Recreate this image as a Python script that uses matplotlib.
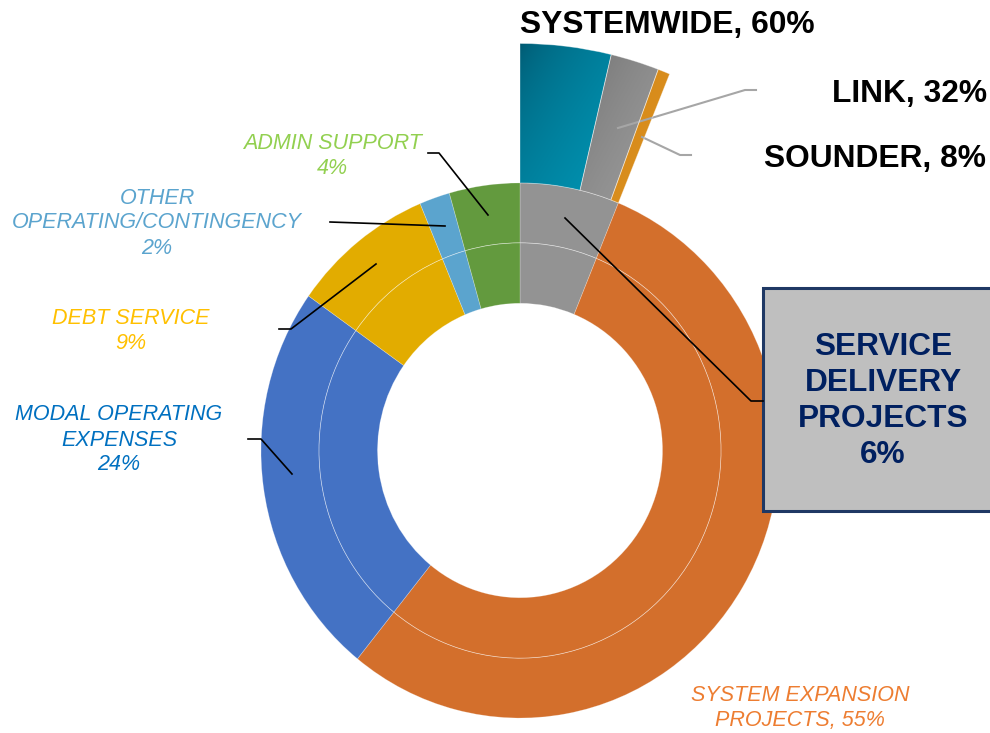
import numpy as np
import matplotlib.pyplot as plt
from matplotlib.colors import to_rgb
from matplotlib.patches import Rectangle, Circle

plt.rcParams['font.family'] = ['Liberation Sans', 'DejaVu Sans']

# Budget shares (percent), clockwise from 12 o'clock
categories = ['SERVICE DELIVERY PROJECTS', 'SYSTEM EXPANSION PROJECTS', 'MODAL OPERATING EXPENSES',
              'DEBT SERVICE', 'OTHER OPERATING/CONTINGENCY', 'ADMIN SUPPORT']
shares = [6.2, 54.6, 24.0, 8.9, 1.9, 4.4]
share_labels = ['6%', '55%', '24%', '9%', '2%', '4%']
ring_colors = ['#939393', '#D36F2C', '#4472C4', '#E2AC00', '#5BA4CE', '#639A3E']

# Breakdown of service delivery projects (percent of that slice)
sub_names = ['SYSTEMWIDE', 'LINK', 'SOUNDER']
sub_shares = [60, 32, 8]

# layout: the picture is drawn in pixel units, slightly stretched vertically
W, H = 990, 733
K = 1.033
def P(x, y):
    return (x, (H - y) / K)

fig = plt.figure(figsize=(W / 100, H / 100), dpi=100)
ax = fig.add_axes([0, 0, 1, 1])

center = P(520, 450.5)
r_out, r_mid, r_in = 259, 201, 142.5

# two rings with the same data
edge = (1, 1, 1, 0.3)
ax.pie(shares, radius=r_out, center=center, startangle=90, counterclock=False,
       colors=ring_colors, wedgeprops=dict(width=r_out - r_mid, edgecolor=edge, linewidth=0.5))
ax.pie(shares, radius=r_mid, center=center, startangle=90, counterclock=False,
       colors=ring_colors, wedgeprops=dict(width=r_mid - r_in, edgecolor=edge, linewidth=0.5))
ax.add_patch(Circle(center, r_mid, fill=False, edgecolor=(1, 1, 1, 0.3), linewidth=0.5))

# exploded breakdown of the service delivery slice
g = shares[0]
sub_vals = [g * s / 100 for s in sub_shares] + [100 - g]
r_sub = 394
wedges, _ = ax.pie(sub_vals, radius=r_sub, center=center, startangle=90, counterclock=False,
                   wedgeprops=dict(width=r_sub - r_out, linewidth=0))
gradients = [('#00566E', '#0094B3'), ('#6C6C6C', '#9C9C9C'), ('#CF8216', '#DD921F')]
for w, (c0, c1) in zip(wedges[:3], gradients):
    ext = w.get_path().get_extents()
    a = np.array(to_rgb(c0))
    b = np.array(to_rgb(c1))
    t = (np.add.outer(np.linspace(0, 1, 80), np.linspace(0, 1, 80)) / 2) ** 0.55
    img = a + (b - a) * t[..., None]
    im = ax.imshow(img, extent=(ext.x0, ext.x1, ext.y0, ext.y1), origin='upper', aspect='auto',
                   interpolation='bilinear', zorder=2)
    im.set_clip_path(w)
    w.set_facecolor('none')
    w.set_edgecolor((1, 1, 1, 0.4))
    w.set_linewidth(0.6)
    w.set_zorder(3)
wedges[3].set_visible(False)

# breakdown labels
top_font = dict(fontsize=22.9, fontweight='bold', ha='left', va='baseline')
ax.text(*P(520, 33), f'{sub_names[0]}, {sub_shares[0]}%', **top_font)
ax.text(*P(832, 102), f'{sub_names[1]}, {sub_shares[1]}%', **top_font)
ax.text(*P(764, 167), f'{sub_names[2]}, {sub_shares[2]}%', **top_font)
lead = '#A6A6A6'
ax.plot(*zip(P(618, 128), P(745, 90), P(756, 90)), color=lead, lw=1.5)
ax.plot(*zip(P(642, 137), P(680, 155), P(691, 155)), color=lead, lw=1.5)

# service delivery box
bx = P(763, 511)
ax.add_patch(Rectangle(bx, 260, (511 - 288) / K, facecolor='#BFBFBF', edgecolor='#1F3864', lw=2.2, zorder=4))
ax.text(*P(883, 401), 'SERVICE\nDELIVERY\nPROJECTS\n' + share_labels[0], fontsize=22.8, fontweight='bold',
        color='#002060', ha='center', va='center', linespacing=1.27, zorder=5)
ax.plot(*zip(P(565, 218), P(751, 401), P(763, 401)), color='black', lw=1.2, zorder=4)

# ring labels
lab_style = dict(fontsize=15.5, fontstyle='italic', ha='center', va='center',
                 multialignment='center', linespacing=1.25)
ax.text(*P(332, 156), 'ADMIN SUPPORT\n' + share_labels[5], color='#92D050', **lab_style)
ax.text(*P(157, 223), 'OTHER\nOPERATING/CONTINGENCY\n' + share_labels[4], color='#5BA4CE', **lab_style)
ax.text(*P(131, 331), 'DEBT SERVICE\n' + share_labels[3], color='#FFC000', **lab_style)
ax.text(*P(119, 440), 'MODAL OPERATING\nEXPENSES\n' + share_labels[2], color='#0070C0', **lab_style)
ax.text(*P(800, 708), 'SYSTEM EXPANSION\nPROJECTS, ' + share_labels[1], color='#ED7D31', **lab_style)

ax.plot(*zip(P(428, 153), P(439, 153), P(488, 215)), color='black', lw=1.2)
ax.plot(*zip(P(330, 222), P(445, 226)), color='black', lw=1.2)
ax.plot(*zip(P(279, 329), P(291, 329), P(376, 264)), color='black', lw=1.2)
ax.plot(*zip(P(248, 439), P(261, 439), P(292, 474)), color='black', lw=1.2)

ax.set_aspect('auto')
ax.set_xlim(0, W)
ax.set_ylim(0, H / K)
ax.axis('off')

fig.savefig('out.png', dpi=100)
